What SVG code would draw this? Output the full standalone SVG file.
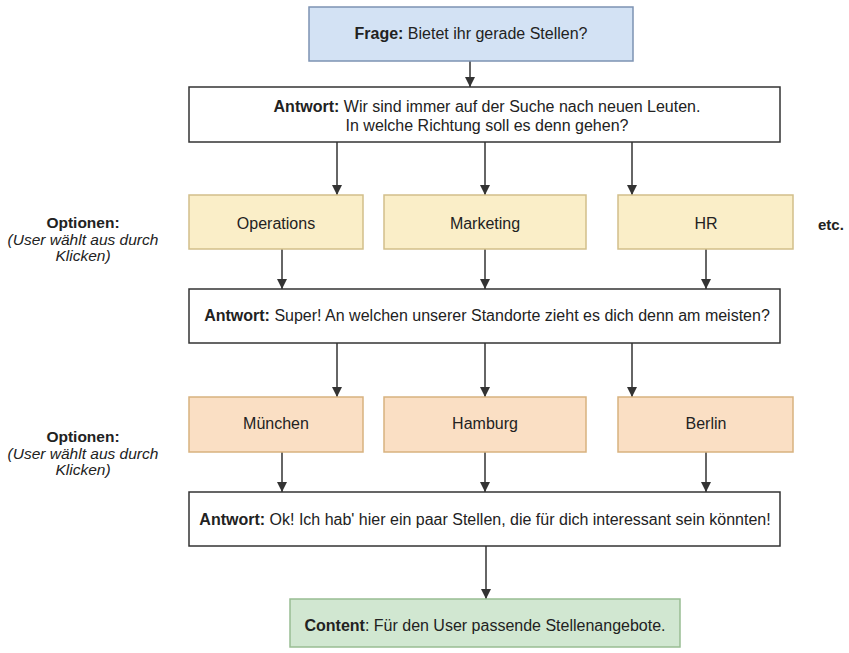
<svg xmlns="http://www.w3.org/2000/svg" width="849" height="653" viewBox="0 0 849 653">
<style>
  text { font-family: "Liberation Sans", Arial, Helvetica, sans-serif; fill: #222; }
  .t { font-size: 16px; text-anchor: middle; }
  .b { font-weight: bold; }
  .lbl { font-size: 15.5px; text-anchor: middle; }
  .it { font-style: italic; }
  .white { fill: #ffffff; stroke: #333333; stroke-width: 1.5; }
  .blue { fill: #d3e2f4; stroke: #7d93b3; stroke-width: 1.5; }
  .yellow { fill: #faeec8; stroke: #d2bf8a; stroke-width: 1.5; }
  .peach { fill: #fadfc4; stroke: #d8b27f; stroke-width: 1.5; }
  .green { fill: #d1e7d1; stroke: #98bd92; stroke-width: 1.5; }
  .edge { stroke: #333333; stroke-width: 1.5; fill: none; marker-end: url(#arr); }
</style>
<defs>
  <marker id="arr" markerUnits="userSpaceOnUse" markerWidth="12" markerHeight="12" refX="10" refY="5" orient="auto">
    <path d="M0,0 L10,5 L0,10 Z" fill="#333333"/>
  </marker>
</defs>
<rect width="849" height="653" fill="#ffffff"/>

<g id="labels">
  <text class="lbl b" x="83" y="228">Optionen:</text>
  <text class="lbl it" x="83" y="245">(User wählt aus durch</text>
  <text class="lbl it" x="83" y="261">Klicken)</text>
  <text class="lbl b" x="83" y="442">Optionen:</text>
  <text class="lbl it" x="83" y="459">(User wählt aus durch</text>
  <text class="lbl it" x="83" y="475">Klicken)</text>
  <text class="b" x="818" y="230" font-size="15">etc.</text>
</g>

<g id="connectors">
  <line class="edge" x1="470" y1="61" x2="470" y2="87"/>
  <line class="edge" x1="337" y1="142" x2="337" y2="195"/>
  <line class="edge" x1="485" y1="142" x2="485" y2="195"/>
  <line class="edge" x1="632" y1="142" x2="632" y2="195"/>
  <line class="edge" x1="282" y1="249" x2="282" y2="289"/>
  <line class="edge" x1="485" y1="249" x2="485" y2="289"/>
  <line class="edge" x1="706" y1="249" x2="706" y2="289"/>
  <line class="edge" x1="337" y1="343" x2="337" y2="397"/>
  <line class="edge" x1="485" y1="343" x2="485" y2="397"/>
  <line class="edge" x1="632" y1="343" x2="632" y2="397"/>
  <line class="edge" x1="282" y1="452" x2="282" y2="492"/>
  <line class="edge" x1="485" y1="452" x2="485" y2="492"/>
  <line class="edge" x1="706" y1="452" x2="706" y2="492"/>
  <line class="edge" x1="486" y1="546" x2="486" y2="599"/>
</g>

<g id="frage">
  <rect class="blue" x="309" y="7" width="324" height="54"/>
  <text class="t" x="471" y="39"><tspan class="b">Frage:</tspan> Bietet ihr gerade Stellen?</text>
</g>

<g id="antwort1">
  <rect class="white" x="189" y="87" width="591" height="55"/>
  <text class="t" x="487" y="112"><tspan class="b">Antwort:</tspan> Wir sind immer auf der Suche nach neuen Leuten.</text>
  <text class="t" x="487" y="131">In welche Richtung soll es denn gehen?</text>
</g>

<g id="operations">
  <rect class="yellow" x="189" y="195" width="174" height="54"/>
  <text class="t" x="276" y="229">Operations</text>
</g>
<g id="marketing">
  <rect class="yellow" x="384" y="195" width="202" height="54"/>
  <text class="t" x="485" y="229">Marketing</text>
</g>
<g id="hr">
  <rect class="yellow" x="618" y="195" width="175" height="54"/>
  <text class="t" x="706" y="229">HR</text>
</g>

<g id="antwort2">
  <rect class="white" x="189" y="289" width="591" height="54"/>
  <text class="t" x="487" y="321"><tspan class="b">Antwort:</tspan> Super! An welchen unserer Standorte zieht es dich denn am meisten?</text>
</g>

<g id="muenchen">
  <rect class="peach" x="189" y="397" width="174" height="55"/>
  <text class="t" x="276" y="429">München</text>
</g>
<g id="hamburg">
  <rect class="peach" x="384" y="397" width="202" height="55"/>
  <text class="t" x="485" y="429">Hamburg</text>
</g>
<g id="berlin">
  <rect class="peach" x="618" y="397" width="175" height="55"/>
  <text class="t" x="706" y="429">Berlin</text>
</g>

<g id="antwort3">
  <rect class="white" x="189" y="492" width="591" height="54"/>
  <text class="t" x="485" y="525"><tspan class="b">Antwort:</tspan> Ok! Ich hab' hier ein paar Stellen, die für dich interessant sein könnten!</text>
</g>

<g id="content">
  <rect class="green" x="290" y="599" width="390" height="48"/>
  <text class="t" x="485" y="631"><tspan class="b">Content</tspan>: Für den User passende Stellenangebote.</text>
</g>
</svg>
